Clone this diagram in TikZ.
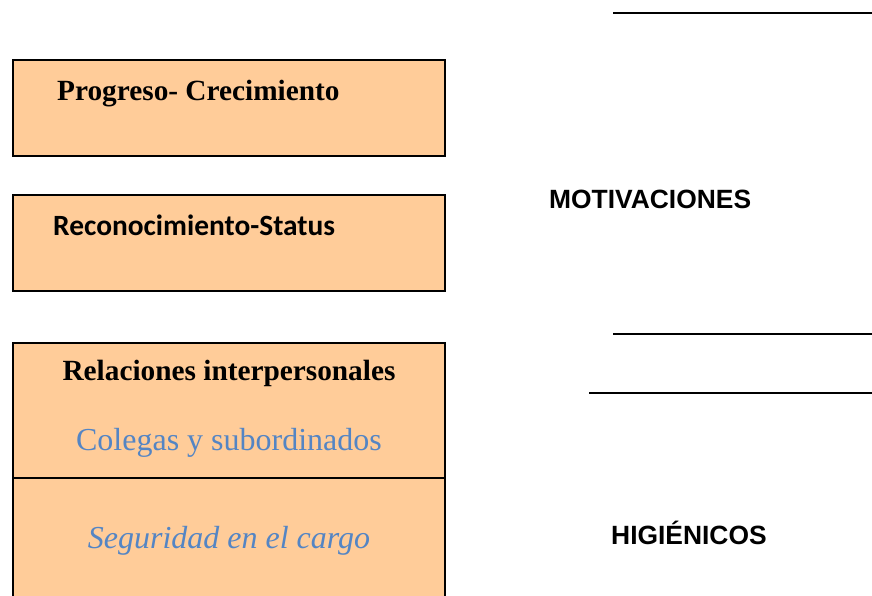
\documentclass[tikz,border=0pt]{standalone}
\usepackage{fontspec}
\setmainfont{Liberation Serif}
\newfontfamily\calibrifont{Carlito}
\newfontfamily\arialfont{Liberation Sans}
\usepackage{xcolor}
\usepackage{tikz}
\usetikzlibrary{positioning}
\definecolor{peach}{RGB}{255,204,153}
\definecolor{wordblue}{RGB}{84,133,196}
\tikzset{
  factor/.style={rectangle, draw=black, fill=peach, line width=2pt,
    minimum width=432pt, inner sep=0pt, outer sep=0pt},
  titlebf/.style={font=\fontsize{29.3}{34}\selectfont\bfseries, inner sep=0pt},
  titlecal/.style={font=\fontsize{29.4}{34}\selectfont\calibrifont\bfseries, inner sep=0pt},
  subtxt/.style={font=\fontsize{32}{38}\selectfont, text=wordblue, inner sep=0pt},
  grouplbl/.style={font=\fontsize{26.4}{31}\selectfont\arialfont\bfseries, inner sep=0pt},
  rule/.style={line width=2pt, color=black}
}
\begin{document}
\begin{tikzpicture}[x=1pt, y=-1pt]
  \useasboundingbox (0,0) rectangle (872,595);
  \clip (0,0) rectangle (872,595);

  % Boxes
  \node[factor, minimum height=96pt] (prog) at (229,108) {};
  \node[factor, minimum height=96pt] (recon) at (229,243) {};
  \node[factor, minimum height=135pt] (rel) at (229,410.5) {};
  \node[factor, minimum height=135pt, anchor=north] (seg) at (rel.south) {};

  % Texts
  \node[titlebf, anchor=base west] (progtxt) at (57,100) {Progreso- Crecimiento};
  \node[titlecal, anchor=base west] (recontxt) at (53,235) {Reconocimiento-Status};
  \node[titlebf, anchor=base] (reltxt) at (229,380) {Relaciones interpersonales};
  \node[subtxt, anchor=base] (colegas) at (229,450) {Colegas y subordinados};
  \node[subtxt, anchor=base, font=\fontsize{32}{38}\selectfont\itshape] (segtxt) at (229,548) {Seguridad en el cargo};

  % Groups
  \node[grouplbl, anchor=base west] (motiv) at (549,208) {MOTIVACIONES};
  \node[grouplbl, anchor=base west] (higien) at (611,544) {HIGIÉNICOS};

  % Rules
  \coordinate (r1a) at (613,13);  \coordinate (r1b) at (872,13);
  \coordinate (r2a) at (613,334); \coordinate (r2b) at (872,334);
  \coordinate (r3a) at (589,393); \coordinate (r3b) at (872,393);
  \draw[rule] (r1a) -- (r1b);
  \draw[rule] (r2a) -- (r2b);
  \draw[rule] (r3a) -- (r3b);
\end{tikzpicture}
\end{document}
